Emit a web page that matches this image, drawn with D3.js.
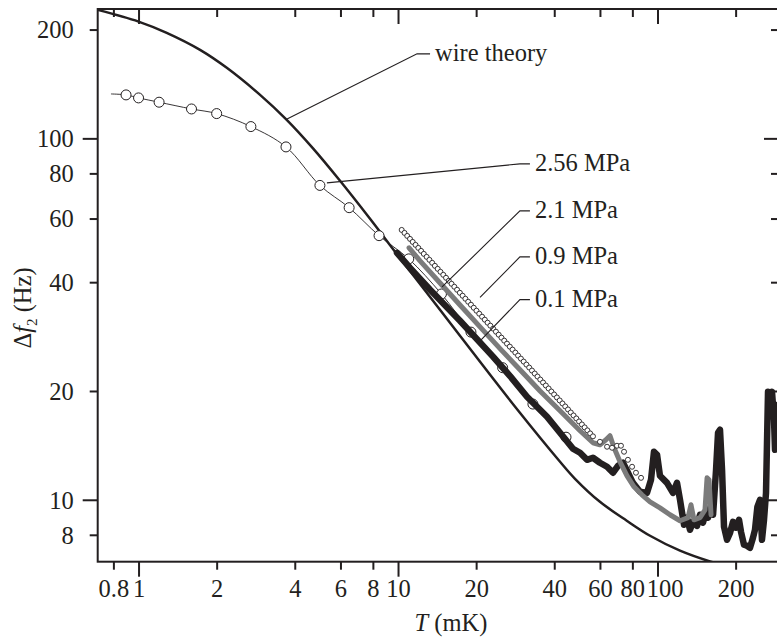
<!DOCTYPE html>
<html><head><meta charset="utf-8">
<script src="https://cdn.jsdelivr.net/npm/d3@7"></script>
<style>
body{margin:0;background:#fff}
svg{display:block}
text{font-family:"Liberation Serif","Times New Roman",serif;fill:#231f20}
</style>
</head><body>
<svg id="chart" width="777" height="641"></svg>
<script>
// ---------- axes ----------
const xTicks = [0.8, 1, 2, 4, 6, 8, 10, 20, 40, 60, 80, 100, 200];
const xMajor = [1, 10, 100];
const yTicks = [8, 10, 20, 40, 60, 80, 100, 200];
const yMajor = [10, 100];
const xDomain = [0.696, 293.9];
const yDomain = [6.74, 228];

// ---------- wire theory ----------
const wireT = [0.696, 1.0, 1.284, 1.726, 2.188, 2.94, 3.725, 4.703, 5.977, 7.80, 9.89, 13.29, 17.33, 28.87, 42.11, 48.1, 60.0, 76.1, 93.6, 122.1, 159.3, 208];
const wireF = [226.7, 210.4, 195.8, 175.7, 156.7, 131.9, 112.5, 93.8, 76.3, 59.9, 47.9, 36.4, 28.43, 17.74, 12.74, 11.43, 9.87, 8.75, 7.95, 7.23, 6.75, 6.40];

// ---------- 2.56 MPa (open circles + fit line) ----------
const p256T = [0.895, 1.0, 1.2, 1.6, 2.0, 2.71, 3.70, 5.0, 6.48, 8.45, 11.0, 14.7, 19.1, 25.3, 33.1, 44.4];
const p256F = [131.9, 129.4, 125.9, 120.6, 117.1, 107.8, 94.7, 74.1, 64.3, 53.8, 46.4, 37.1, 29.1, 23.2, 18.4, 14.9];
const p256LineT = [0.783, 0.895, 1.0, 1.2, 1.6, 2.0, 2.71, 3.70, 5.0, 6.48, 8.45, 11.0, 14.7, 19.1, 25.3, 33.1, 44.4];
const p256LineF = [132.7, 131.9, 129.4, 125.9, 120.6, 117.1, 107.8, 94.7, 74.1, 64.3, 53.8, 46.4, 37.1, 29.1, 23.2, 18.4, 14.9];

// ---------- 2.1 MPa (small open circles) ----------
const p21T = [10.33, 10.59, 10.85, 11.12, 11.39, 11.68, 11.97, 12.27, 12.57, 12.89,
  13.21, 13.54, 13.87, 14.22, 14.57, 14.94, 15.31, 15.69, 16.08, 16.48,
  16.89, 17.31, 17.74, 18.18, 18.64, 19.10, 19.58, 20.06, 20.56, 21.08,
  21.60, 22.14, 22.69, 23.26, 23.84, 24.43, 25.04, 25.66, 26.30, 26.96,
  27.63, 28.32, 29.02, 29.75, 30.49, 31.25, 32.03, 32.82, 33.64, 34.48,
  35.34, 36.22, 37.12, 38.05, 38.99, 39.96, 40.96, 41.98, 43.03, 44.10,
  45.20, 46.32, 47.48, 48.66, 49.87, 51.12, 52.39, 53.69, 55.03, 56.40,
  60.0, 63.9, 66.8, 69.8, 72.3, 74.3, 76.9, 79.8, 82.6, 86.4];
const p21F = [55.80, 54.75, 53.71, 52.70, 51.70, 50.73, 49.77, 48.83, 47.91, 47.00,
  46.12, 45.25, 44.39, 43.55, 42.73, 41.92, 41.13, 40.36, 39.59, 38.85,
  38.11, 37.39, 36.69, 35.99, 35.31, 34.65, 33.99, 33.35, 32.72, 32.10,
  31.50, 30.90, 30.32, 29.75, 29.18, 28.63, 28.09, 27.56, 27.04, 26.53,
  26.03, 25.54, 25.06, 24.58, 24.12, 23.66, 23.22, 22.78, 22.35, 21.93,
  21.51, 21.11, 20.71, 20.32, 19.93, 19.56, 19.19, 18.83, 18.47, 18.12,
  17.78, 17.44, 17.11, 16.79, 16.47, 16.16, 15.86, 15.56, 15.26, 14.98,
  14.47, 14.02, 13.93, 14.11, 14.11, 13.58, 12.90, 12.34, 11.88, 11.50];

// ---------- 0.9 MPa (grey) ----------
const p09T = [11.03, 12.16, 14.52, 17.33, 20.70, 24.72, 29.52, 35.26, 42.11, 50.28,
  56.4, 60.0, 63.3, 65.6, 68.0, 71.7, 76.3, 81.2, 87.1, 93.6,
  102.2, 111.7, 122.1, 131.1, 134.6, 138.2, 145.8, 152.4, 155.2, 157.9, 160.8];
const p09F = [49.8, 45.8, 39.8, 34.6, 30.1, 26.2, 22.9, 20.0, 17.63, 15.52,
  14.38, 14.20, 14.66, 15.04, 13.93, 12.74, 11.65, 10.86, 10.32, 9.87,
  9.50, 9.09, 8.75, 8.92, 9.69, 8.80, 8.92, 9.38, 11.5, 11.36, 9.09];

// ---------- 0.1 MPa (black) ----------
const p01T = [9.91, 11.12, 13.29, 17.33, 23.23, 27.02, 31.41, 37.52, 42.11, 47.24,
  50.28, 53.5, 56.4, 60.0, 63.9, 67.4, 70.4, 73.6, 76.3, 80.4,
  85.6, 91.1, 94.4, 96.9, 99.6, 102.2, 108.8, 114.7, 118.9, 122.1,
  126.5, 129.9, 133.4, 137.0, 142.0, 145.8, 149.7, 153.8, 156.5, 160.8,
  163.7, 168.1, 171.1, 174.1, 177.3, 180.4, 185.3, 190.3, 195.4, 200.7,
  206.1, 209.8, 215.4, 221.3, 227.2, 233.3, 237.5, 242.6, 248.3, 252.7,
  257.3, 261.9, 266.6, 271.4, 276.2, 281.2, 283.7, 288.7];
const p01F = [48.2, 43.8, 38.1, 31.3, 24.9, 22.0, 19.27, 16.97, 15.32, 13.84,
  13.49, 12.90, 13.07, 12.66, 12.34, 11.88, 12.42, 12.66, 12.03, 11.14,
  10.52, 10.45, 11.36, 13.58, 13.32, 11.65, 11.14, 10.45, 11.14, 10.0,
  8.53, 8.92, 8.26, 8.69, 8.47, 9.09, 8.64, 9.26, 8.92, 9.69,
  9.09, 12.10, 15.32, 15.62, 12.10, 8.42, 7.75, 8.10, 8.69, 8.37,
  8.80, 8.15, 7.51, 7.46, 7.36, 7.85, 8.26, 9.56, 10.0, 7.75,
  8.80, 10.45, 19.9, 19.15, 19.9, 16.65, 13.75, 18.3];

// ---------- labels with leader lines ----------
const labelText = ["wire theory", "2.56 MPa", "2.1 MPa", "0.9 MPa", "0.1 MPa"];
const labelStartT = [3.735, 5.32, 14.78, 20.7, 20.9];
const labelStartF = [113.2, 75.3, 38.8, 36.3, 27.7];
const labelElbowT = [11.84, 29.5, 29.5, 29.5, 29.5];
const labelElbowF = [171.3, 85.0, 63.0, 47.0, 35.8];

// =========================================================
const ink = "#231f20";
const svg = d3.select("#chart");
const L = 97.7, R = 779, T0 = 9, B = 561.7;
const x = d3.scaleLog().domain(xDomain).range([L, R]);
const y = d3.scaleLog().domain(yDomain).range([B, T0]);
const FS = 24.5;

svg.append("defs").append("clipPath").attr("id", "clip")
  .append("rect").attr("x", L).attr("y", T0).attr("width", R - L).attr("height", B - T0);

const plot = svg.append("g").attr("clip-path", "url(#clip)");

// wire theory
const smooth = d3.line().x(d => x(d[0])).y(d => y(d[1])).curve(d3.curveCatmullRom.alpha(0.5));
plot.append("path").datum(d3.zip(wireT, wireF))
  .attr("d", smooth).attr("fill", "none").attr("stroke", ink).attr("stroke-width", 2.5);

// 2.56 MPa line + circles
plot.append("path").datum(d3.zip(p256LineT, p256LineF))
  .attr("d", smooth)
  .attr("fill", "none").attr("stroke", ink).attr("stroke-width", 0.9);
plot.append("g").selectAll("circle").data(d3.zip(p256T, p256F)).join("circle")
  .attr("cx", d => x(d[0])).attr("cy", d => y(d[1])).attr("r", 5)
  .attr("fill", "#fff").attr("stroke", ink).attr("stroke-width", 1);

// 0.1 MPa black
const lin = d3.line().x(d => x(d[0])).y(d => y(d[1])).curve(d3.curveLinear);
plot.append("path").datum(d3.zip(p01T, p01F))
  .attr("d", lin).attr("fill", "none").attr("stroke", ink).attr("stroke-width", 6.5)
  .attr("stroke-linejoin", "round").attr("stroke-linecap", "round");

// 0.9 MPa grey
plot.append("path").datum(d3.zip(p09T, p09F))
  .attr("d", lin).attr("fill", "none").attr("stroke", "#7b7b7b").attr("stroke-width", 5)
  .attr("stroke-linejoin", "round").attr("stroke-linecap", "round");

// 2.1 MPa small circles
plot.append("g").selectAll("circle").data(d3.zip(p21T, p21F)).join("circle")
  .attr("cx", d => x(d[0])).attr("cy", d => y(d[1])).attr("r", 2.5)
  .attr("fill", "#fff").attr("stroke", ink).attr("stroke-width", 0.9);

// ---------- axes ----------
function styleAxis(g) {
  g.select(".domain").remove();
  g.selectAll(".tick line").attr("stroke", ink).attr("stroke-width", 2);
  g.selectAll(".tick text").attr("font-family", '"Liberation Serif","Times New Roman",serif')
    .attr("font-size", FS).attr("fill", ink);
}
const gx = svg.append("g").attr("transform", `translate(0,${B})`)
  .call(d3.axisBottom(x).tickValues(xTicks).tickFormat(d => String(d)).tickSizeOuter(0));
styleAxis(gx);
gx.selectAll(".tick line").attr("y2", d => xMajor.includes(d) ? 15 : 8);
gx.selectAll(".tick text").attr("y", 18).attr("dy", "0.71em").attr("dx", d => d === 100 ? 7 : 0);

const gxt = svg.append("g").attr("transform", `translate(0,${T0})`)
  .call(d3.axisTop(x).tickValues(xTicks).tickFormat("").tickSizeOuter(0));
styleAxis(gxt);
gxt.selectAll(".tick line").attr("y2", d => xMajor.includes(d) ? 15 : 8);

const gy = svg.append("g").attr("transform", `translate(${L},0)`)
  .call(d3.axisLeft(y).tickValues(yTicks).tickFormat(d => String(d)).tickSizeOuter(0));
styleAxis(gy);
gy.selectAll(".tick line").attr("x2", d => yMajor.includes(d) ? -15 : -8);
gy.selectAll(".tick text").attr("x", -24).attr("dy", "0.34em");

const gyr = svg.append("g").attr("transform", `translate(${R},0)`)
  .call(d3.axisRight(y).tickValues(yTicks).tickFormat("").tickSizeOuter(0));
styleAxis(gyr);
gyr.selectAll(".tick line").attr("x2", d => yMajor.includes(d) ? -15 : -8);

// frame
svg.append("rect").attr("x", L).attr("y", T0).attr("width", R - L).attr("height", B - T0)
  .attr("fill", "none").attr("stroke", ink).attr("stroke-width", 2);

// axis titles
const xt = svg.append("text").attr("x", 451).attr("y", 631).attr("text-anchor", "middle")
  .attr("font-size", FS);
xt.append("tspan").attr("font-style", "italic").text("T");
xt.append("tspan").text(" (mK)");

const yt = svg.append("text").attr("transform", "translate(31,308) rotate(-90)")
  .attr("text-anchor", "middle").attr("font-size", FS);
yt.append("tspan").text("Δ");
yt.append("tspan").attr("font-style", "italic").text("f");
yt.append("tspan").attr("font-size", 15).attr("dy", 6).text("2");
yt.append("tspan").attr("dy", -6).text(" (Hz)");

// labels with leaders
labelText.forEach((t, i) => {
  const sx = x(labelStartT[i]), sy = y(labelStartF[i]);
  const ex = x(labelElbowT[i]), ey = y(labelElbowF[i]);
  const dash = i === 0 ? 13 : 10;
  svg.append("polyline")
    .attr("points", `${sx},${sy} ${ex},${ey} ${ex + dash},${ey}`)
    .attr("fill", "none").attr("stroke", ink).attr("stroke-width", 1.1);
  svg.append("text").attr("x", ex + dash + 5).attr("y", ey).attr("dy", "0.3em")
    .attr("font-size", FS).text(t);
});
</script>
</body></html>
